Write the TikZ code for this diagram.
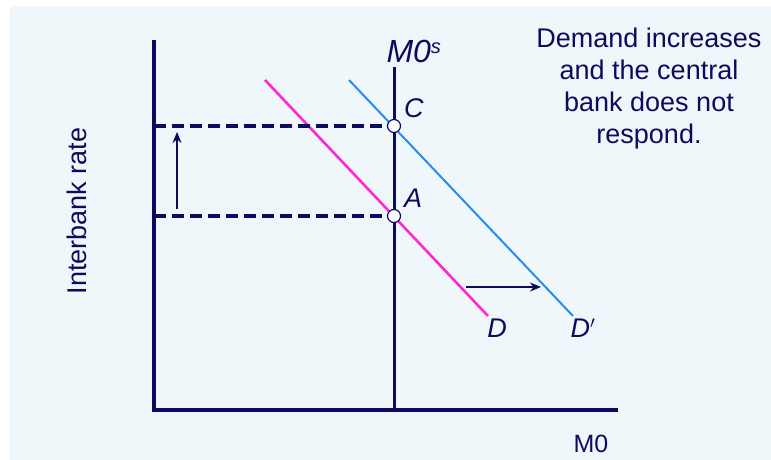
\documentclass[tikz,border=0pt]{standalone}
\usepackage{fontspec}
\setmainfont{Liberation Sans}
\usepackage{xcolor}
\usetikzlibrary{arrows.meta,positioning}
\definecolor{navy}{RGB}{12,12,94}
\definecolor{pagebg}{RGB}{240,247,250}
\definecolor{pinkd}{RGB}{255,40,210}
\definecolor{blued}{RGB}{40,140,240}
\begin{document}
\begin{tikzpicture}[x=1pt,y=-1pt,font=\fontsize{27}{32}\selectfont,text=navy,axis/.style={draw=navy,line width=4pt},supply/.style={draw=navy,line width=3pt},demand/.style={draw=pinkd,line width=2.6pt},newdemand/.style={draw=blued,line width=2pt},guide/.style={draw=navy,line width=3.2pt,dash pattern=on 12pt off 6pt},shiftarrow/.style={draw=navy,line width=2pt,-{Stealth[length=11pt,width=9pt]}},dot/.style={circle,draw=navy,fill=white,line width=1.2pt,inner sep=0pt,minimum size=13pt},lab/.style={font=\fontsize{27}{32}\selectfont\itshape,inner sep=1pt}]
\useasboundingbox (0,0) rectangle (771,460);
\fill[white] (0,0) rectangle (771,460);
\fill[pagebg] (10,6) rectangle (771,460);
\coordinate (ytop) at (154,40);
\coordinate (orig) at (154,410);
\coordinate (xend) at (618,410);
\coordinate (stop) at (394,67);
\coordinate (sbot) at (394,410);
\coordinate (rC) at (154,126);
\coordinate (rA) at (154,216);
\coordinate (dtop) at (265,80);
\coordinate (dbot) at (488,316);
\coordinate (ntop) at (349,80);
\coordinate (nbot) at (573,316);
\coordinate (upfrom) at (177,209);
\coordinate (upto) at (177,132);
\coordinate (rtfrom) at (466,287);
\coordinate (rtto) at (541,287);
\draw[axis] (ytop)--(orig)--(xend);
\draw[supply] (stop)--(sbot);
\draw[demand] (dtop)--(dbot);
\draw[newdemand] (ntop)--(nbot);
\node[dot] (C) at (394,126) {};
\node[dot] (A) at (394,216) {};
\draw[guide] (rC)--(C);
\draw[guide] (rA)--(A);
\draw[shiftarrow] (upfrom)--(upto);
\draw[shiftarrow] (rtfrom)--(rtto);
\node[lab,font=\fontsize{32}{34}\selectfont\itshape,anchor=base] (ms) at (414,63) {M0\textsuperscript{\fontsize{20}{20}\selectfont s}};
\node[lab,above right=2pt and 4pt of C.north east,anchor=south west] (Clab) {C};
\node[lab,above right=2pt and 4pt of A.north east,anchor=south west] (Alab) {A};
\node[lab,anchor=north] (Dlab) at (497,318) {D};
\node[lab,anchor=north] (Nlab) at (583,318) {D$'$};
\node[rotate=90] (yl) at (77,211) {Interbank rate};
\node[anchor=base,inner sep=0pt,font=\fontsize{25}{28}\selectfont] (xl) at (591,452) {M0};
\node[align=center,anchor=north] (note) at (649,24) {Demand increases\\and the central\\bank does not\\respond.};
\end{tikzpicture}
\end{document}
